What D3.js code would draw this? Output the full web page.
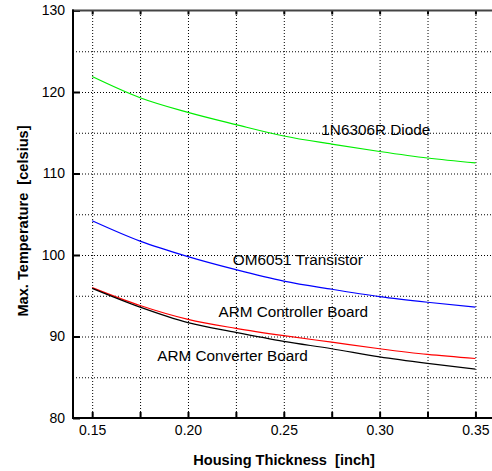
<!DOCTYPE html>
<html>
<head>
<meta charset="utf-8">
<script src="https://cdn.jsdelivr.net/npm/d3@7"></script>
<style>
    body { margin: 0; background: #fff; }
    svg text { font-family: "Liberation Sans", Arial, sans-serif; }
    .grid line { stroke: #000; stroke-width: 1; stroke-dasharray: 1, 2; }
    .grid path { display: none; }
    .tick-marks path { display: none; }
    .tick-marks line { stroke: #000; stroke-width: 2; }
    .tick-labels path, .tick-labels line { display: none; }
    .tick-labels text { font-size: 14px; fill: #000; }
    .curve { fill: none; stroke-width: 1.2; }
    .label { font-size: 15.3px; fill: #000; }
    .title { font-size: 14.6px; font-weight: bold; fill: #000; white-space: pre; }
</style>
</head>
<body>
<svg id="view" width="492" height="471"></svg>
<script>
const Thickness = [0.15, 0.175, 0.20, 0.225, 0.25, 0.275, 0.30, 0.325, 0.35];

const DiodeTemp = [121.9, 119.3, 117.5, 116.0, 114.6, 113.6, 112.7, 111.9, 111.3];
const TransistorTemp = [104.2, 101.7, 99.8, 98.2, 96.8, 95.8, 94.9, 94.2, 93.6];
const ControllerTemp = [96.0, 93.8, 92.1, 91.0, 90.1, 89.3, 88.5, 87.8, 87.3];
const ConverterTemp = [95.9, 93.6, 91.7, 90.5, 89.4, 88.5, 87.5, 86.7, 86.0];

const SeriesNames = ['1N6306R Diode', 'OM6051 Transistor', 'ARM Controller Board', 'ARM Converter Board'];
const SeriesColors = ['#00ee00', '#0000ff', '#ff0000', '#000000'];

// where each label starts, in data units
const LabelX = [0.2696, 0.2234, 0.2159, 0.184];
const LabelY = [114.7, 98.8, 92.4, 87.0];

const XTicks = [0.15, 0.20, 0.25, 0.30, 0.35];
const XGrid = [0.15, 0.175, 0.20, 0.225, 0.25, 0.275, 0.30, 0.325, 0.35];
const YTicks = [80, 90, 100, 110, 120, 130];
const YGrid = [85, 90, 95, 100, 105, 110, 115, 120, 125];

function drawChart(svg) {
    const width = +svg.attr('width');
    const height = +svg.attr('height');

    const left = 73, top = 10.5, bottom = 418;

    var x = d3.scaleLinear()
        .domain([0.14, 0.36])
        .range([left, 494.6]);
    var y = d3.scaleLinear()
        .domain([80, 130])
        .range([bottom, top]);

    // 网格
    svg.append('g')
        .attr('class', 'grid')
        .attr('transform', 'translate(0,' + bottom + ')')
        .call(d3.axisBottom(x).tickValues(XGrid).tickSize(-(bottom - top)).tickFormat(''));
    svg.append('g')
        .attr('class', 'grid')
        .attr('transform', 'translate(' + left + ',0)')
        .call(d3.axisLeft(y).tickValues(YGrid).tickSize(-(width - left)).tickFormat(''));

    // tick marks
    svg.append('g')
        .attr('class', 'tick-marks')
        .attr('transform', 'translate(0,' + bottom + ')')
        .call(d3.axisBottom(x).tickValues(XGrid).tickSize(-6).tickFormat(''));
    svg.append('g')
        .attr('class', 'tick-marks')
        .attr('transform', 'translate(0,' + top + ')')
        .call(d3.axisTop(x).tickValues(XGrid).tickSize(-4).tickFormat(''));
    svg.append('g')
        .attr('class', 'tick-marks')
        .attr('transform', 'translate(' + left + ',0)')
        .call(d3.axisLeft(y).tickValues(YTicks).tickSize(-7).tickFormat(''));

    // frame
    svg.append('line')
        .attr('x1', left - 1).attr('y1', top)
        .attr('x2', width).attr('y2', top)
        .attr('stroke', '#444').attr('stroke-width', 2);
    svg.append('line')
        .attr('x1', left - 1).attr('y1', bottom)
        .attr('x2', width).attr('y2', bottom)
        .attr('stroke', '#000').attr('stroke-width', 2);
    svg.append('line')
        .attr('x1', left).attr('y1', top - 1)
        .attr('x2', left).attr('y2', bottom + 1)
        .attr('stroke', '#000').attr('stroke-width', 2);

    // tick labels
    svg.append('g')
        .attr('class', 'tick-labels')
        .attr('transform', 'translate(0,' + bottom + ')')
        .call(d3.axisBottom(x).tickValues(XTicks).tickSize(0).tickPadding(7).tickFormat(d3.format('.2f')));
    svg.append('g')
        .attr('class', 'tick-labels')
        .attr('transform', 'translate(' + left + ',0)')
        .call(d3.axisLeft(y).tickValues(YTicks).tickSize(0).tickPadding(8).tickFormat(d3.format('d')));

    // curves
    var series = [DiodeTemp, TransistorTemp, ControllerTemp, ConverterTemp];
    var line = d3.line()
        .x(function(d, i) { return x(Thickness[i]); })
        .y(function(d) { return y(d); })
        .curve(d3.curveMonotoneX);

    svg.append('g')
        .selectAll('path.curve')
        .data(series)
        .enter()
        .append('path')
        .attr('class', 'curve')
        .attr('stroke', function(d, i) { return SeriesColors[i]; })
        .attr('d', line);

    svg.append('g')
        .selectAll('text.label')
        .data(SeriesNames)
        .enter()
        .append('text')
        .attr('class', 'label')
        .attr('x', function(d, i) { return x(LabelX[i]); })
        .attr('y', function(d, i) { return y(LabelY[i]); })
        .text(function(d) { return d; });

    // axis titles
    svg.append('text')
        .attr('class', 'title')
        .attr('text-anchor', 'middle')
        .attr('x', 284)
        .attr('y', 465)
        .text('Housing Thickness  [inch]');
    svg.append('text')
        .attr('class', 'title')
        .attr('text-anchor', 'middle')
        .attr('transform', 'translate(28,221) rotate(-90)')
        .text('Max. Temperature  [celsius]');
}

drawChart(d3.select('svg#view'));
</script>
</body>
</html>
